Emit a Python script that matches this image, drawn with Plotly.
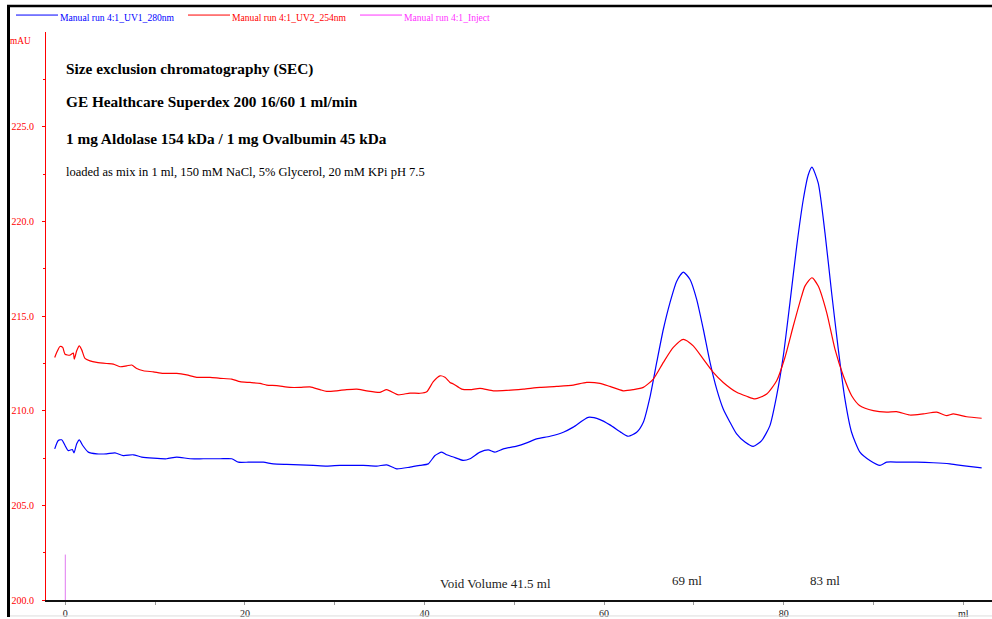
import plotly.graph_objects as go

# Elution volume (ml) and absorbance (mAU) for the UV1 280 nm trace
uv280_ml = [-1.18, -0.78, -0.40, -0.03, 0.33, 0.78, 0.97, 1.27, 1.56, 1.94, 2.56, 3.50,
            4.61, 5.53, 6.46, 7.57, 8.51, 9.80, 11.29, 12.41, 13.89, 15.37, 17.23, 18.53,
            19.27, 20.38, 20.94, 22.05, 23.16, 24.65, 26.14, 27.62, 29.11, 30.59, 32.07,
            33.18, 34.68, 35.79, 36.90, 38.39, 39.50, 40.42, 41.17, 41.92, 42.47, 43.21,
            44.32, 45.07, 46.18, 47.10, 47.85, 48.78, 50.27, 51.38, 52.49, 53.98, 55.46,
            56.57, 58.24, 59.54, 60.65, 61.96, 62.69, 63.63, 64.37, 65.11, 65.86, 66.60,
            67.34, 68.09, 68.82, 69.57, 70.31, 71.05, 71.80, 72.54, 73.27, 74.02, 74.76,
            75.69, 76.61, 77.55, 78.47, 79.22, 79.96, 80.70, 81.45, 82.18, 82.74, 83.15,
            83.85, 84.60, 85.34, 86.08, 86.82, 87.56, 88.49, 89.60, 90.72, 91.46, 92.95,
            94.81, 96.66, 98.52, 100.38, 102.05]
uv280_mau = [207.98, 208.42, 208.46, 208.16, 207.89, 207.95, 207.77, 208.25, 208.46, 208.16,
             207.81, 207.72, 207.72, 207.77, 207.63, 207.67, 207.55, 207.49, 207.46, 207.55,
             207.46, 207.46, 207.46, 207.46, 207.28, 207.28, 207.28, 207.28, 207.19, 207.16,
             207.14, 207.11, 207.07, 207.11, 207.11, 207.11, 207.07, 207.14, 206.93, 207.02,
             207.11, 207.19, 207.63, 207.81, 207.67, 207.55, 207.37, 207.46, 207.81, 207.93,
             207.81, 207.98, 208.13, 208.30, 208.51, 208.65, 208.86, 209.13, 209.65, 209.53,
             209.25, 208.83, 208.65, 208.86, 209.39, 210.72, 212.55, 214.30, 215.71, 216.84,
             217.32, 216.93, 215.88, 214.30, 212.55, 211.14, 210.09, 209.39, 208.77, 208.34,
             208.11, 208.42, 209.21, 210.79, 212.89, 215.71, 218.68, 221.14, 222.46, 222.86,
             222.02, 219.39, 216.23, 213.25, 210.62, 208.86, 207.81, 207.37, 207.11, 207.28,
             207.28, 207.28, 207.25, 207.19, 207.07, 206.98]

# Elution volume (ml) and absorbance (mAU) for the UV2 254 nm trace
uv254_ml = [-1.18, -0.96, -0.59, -0.29, -0.03, 0.52, 0.89, 1.00, 1.27, 1.56, 1.83, 2.19,
            2.75, 3.50, 4.61, 5.35, 6.09, 6.84, 7.39, 7.95, 8.69, 9.80, 10.91, 12.41, 13.52,
            14.63, 16.12, 17.23, 18.53, 19.46, 20.57, 21.68, 22.43, 23.54, 25.02, 26.14,
            27.25, 28.36, 29.11, 30.22, 31.34, 32.45, 33.56, 35.05, 35.79, 37.08, 38.39,
            39.50, 40.25, 40.98, 41.73, 42.28, 42.84, 43.21, 44.14, 45.07, 46.18, 47.66,
            49.15, 51.00, 52.86, 54.72, 56.57, 58.06, 59.54, 60.65, 62.14, 63.25, 64.37,
            65.48, 66.60, 67.71, 68.82, 69.93, 71.05, 72.16, 73.27, 74.77, 75.88, 76.81,
            78.11, 79.22, 80.14, 81.07, 82.00, 82.37, 83.15, 83.85, 84.79, 85.71, 86.64,
            87.57, 88.49, 89.98, 91.47, 92.58, 94.06, 95.55, 97.04, 98.15, 98.89, 100.38,
            102.05]
uv254_mau = [212.81, 213.07, 213.39, 213.34, 212.98, 212.93, 213.04, 212.72, 213.16, 213.42,
             213.21, 212.76, 212.63, 212.55, 212.49, 212.46, 212.32, 212.37, 212.41, 212.23,
             212.11, 212.05, 211.97, 211.97, 211.89, 211.76, 211.76, 211.71, 211.67, 211.53,
             211.49, 211.44, 211.35, 211.32, 211.23, 211.23, 211.26, 211.11, 211.02, 211.05,
             211.11, 211.14, 211.05, 210.97, 211.11, 210.84, 210.93, 210.92, 211.00, 211.53,
             211.84, 211.76, 211.49, 211.41, 211.14, 211.11, 211.18, 211.05, 211.07, 211.14,
             211.23, 211.28, 211.35, 211.49, 211.44, 211.28, 211.05, 211.11, 211.23, 211.67,
             212.55, 213.34, 213.77, 213.42, 212.72, 212.02, 211.49, 210.97, 210.76, 210.62,
             210.88, 211.58, 212.81, 214.47, 216.05, 216.58, 217.02, 216.58, 215.18, 213.25,
             211.84, 210.79, 210.26, 210.00, 209.92, 209.95, 209.77, 209.83, 209.92, 209.74,
             209.83, 209.68, 209.60]

# Injection mark
inject_ml = [0.0]
inject_mark_top = 202.4

# Axis ticks
y_tickvals = [200, 205, 210, 215, 220, 225]
x_tickvals = [0, 20, 40, 60, 80, 100]
x_ticktext = ["0", "20", "40", "60", "80", "ml"]

series_names = ["Manual run 4:1_UV1_280nm", "Manual run 4:1_UV2_254nm", "Manual run 4:1_Inject"]
series_colors = ["#0000ff", "#ff0000", "#ff33ff"]

W, H = 992, 619
ML, MR, MT, MB = 46, 0, 32, 17
PW, PH = W - ML - MR, H - MT - MB
SERIF = "Liberation Serif, Times New Roman, serif"


def px_x(px):
    return (px - ML) / PW


def px_y(py):
    return (H - MB - py) / PH


fig = go.Figure()
fig.add_trace(go.Scatter(x=uv280_ml, y=uv280_mau, mode="lines", name=series_names[0],
                         line=dict(color=series_colors[0], width=1.2, shape="spline", smoothing=0.6)))
fig.add_trace(go.Scatter(x=uv254_ml, y=uv254_mau, mode="lines", name=series_names[1],
                         line=dict(color=series_colors[1], width=1.2, shape="spline", smoothing=0.6)))
for v in inject_ml:
    fig.add_trace(go.Scatter(x=[v, v], y=[200, inject_mark_top], mode="lines", name=series_names[2],
                             line=dict(color="#e07af0", width=1)))

shapes = []
annotations = []

# frame lines on the left and top edges
shapes.append(dict(type="line", xref="paper", yref="paper", x0=px_x(8.5), x1=px_x(8.5),
                   y0=px_y(5), y1=px_y(H), line=dict(color="black", width=3)))
shapes.append(dict(type="line", xref="paper", yref="paper", x0=px_x(7), x1=px_x(W),
                   y0=px_y(6), y1=px_y(6), line=dict(color="black", width=2.5)))
shapes.append(dict(type="line", xref="paper", yref="paper", x0=px_x(10), x1=px_x(W),
                   y0=px_y(618), y1=px_y(618), line=dict(color="#dddddd", width=1)))

# legend row
legend_lines = [(16, 58), (188, 230), (360, 402)]
for (a, b), name, col in zip(legend_lines, series_names, series_colors):
    shapes.append(dict(type="line", xref="paper", yref="paper", x0=px_x(a), x1=px_x(b),
                       y0=px_y(15), y1=px_y(15), line=dict(color=col, width=1)))
    annotations.append(dict(xref="paper", yref="paper", x=px_x(b), y=px_y(17), text=name,
                            showarrow=False, xanchor="left", yanchor="middle",
                            font=dict(family=SERIF, size=9.6, color=col)))

annotations.append(dict(xref="paper", yref="paper", x=px_x(8), y=px_y(41), text="mAU",
                        showarrow=False, xanchor="left", yanchor="middle",
                        font=dict(family=SERIF, size=9.3, color="#ff0000")))

# run description
desc = [("<b>Size exclusion chromatography (SEC)</b>", 69, 15.3),
        ("<b>GE Healthcare Superdex 200 16/60 1 ml/min</b>", 102, 15.3),
        ("<b>1 mg Aldolase 154 kDa / 1 mg Ovalbumin 45 kDa</b>", 139, 15.3),
        ("loaded as mix in 1 ml, 150 mM NaCl, 5% Glycerol, 20 mM KPi pH 7.5", 172, 12.5)]
for text, py, size in desc:
    annotations.append(dict(xref="paper", yref="paper", x=px_x(64), y=px_y(py), text=text,
                            showarrow=False, xanchor="left", yanchor="middle",
                            font=dict(family=SERIF, size=size, color="black")))

# elution volume labels
for text, xv, yv in [("Void Volume 41.5 ml", 47.9, 200.88), ("69 ml", 69.2, 201.05),
                     ("83 ml", 84.6, 201.05)]:
    annotations.append(dict(x=xv, y=yv, text=text, showarrow=False, xanchor="center",
                            yanchor="middle", font=dict(family=SERIF, size=13, color="#222222")))

fig.update_layout(
    width=W, height=H,
    margin=dict(l=ML, r=MR, t=MT, b=MB, pad=0),
    paper_bgcolor="white", plot_bgcolor="white",
    showlegend=False,
    shapes=shapes, annotations=annotations,
    xaxis=dict(range=[-2.15, 103.2], showgrid=False, zeroline=False, showline=True,
               linecolor="#111111", linewidth=1.5, ticks="outside", ticklen=3, tickcolor="#999999",
               tickvals=x_tickvals, ticktext=x_ticktext,
               minor=dict(tickvals=[10, 30, 50, 70, 90], ticklen=3, tickcolor="#999999", ticks="outside"),
               tickfont=dict(family=SERIF, size=10, color="#222222")),
    yaxis=dict(range=[200, 230], showgrid=False, zeroline=False, showline=True,
               linecolor="#ff0000", linewidth=1, ticks="outside", ticklen=3, tickcolor="#ff0000",
               tickvals=y_tickvals, tickformat=".1f", ticklabelstandoff=6,
               minor=dict(tickvals=[202.5, 207.5, 212.5, 217.5, 222.5, 227.5], ticklen=2,
                          tickcolor="#ff0000", ticks="outside"),
               tickfont=dict(family=SERIF, size=10, color="#ff0000")),
)

fig.write_html("out.html")
